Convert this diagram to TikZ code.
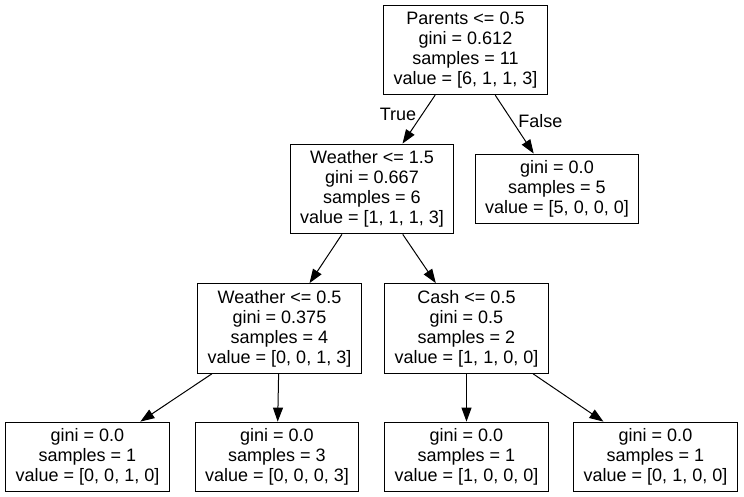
\documentclass[tikz,border=0pt]{standalone}
\usepackage{fontspec}
\setmainfont{Liberation Sans}
\usetikzlibrary{arrows.meta}

\begin{document}
\begin{tikzpicture}[
    x=1pt,y=-1pt,
    box/.style={draw,line width=1pt,rectangle,align=center,inner xsep=10pt,inner ysep=6.5pt,
      font=\fontsize{18}{20}\selectfont},
    arr/.style={-{Triangle[length=14pt,width=10pt]},line width=1pt},
    lbl/.style={font=\fontsize{18}{20}\selectfont}
  ]
    \fill[white] (0,0) rectangle (744,497);
    \node[box] (root) at (465.5,50) {Parents <= 0.5\\gini = 0.612\\samples = 11\\value = [6, 1, 1, 3]};
    \node[box] (w15) at (372,189) {Weather <= 1.5\\gini = 0.667\\samples = 6\\value = [1, 1, 1, 3]};
    \node[box] (leafA) at (557,189) {gini = 0.0\\samples = 5\\value = [5, 0, 0, 0]};
    \node[box] (w05) at (279.5,328.5) {Weather <= 0.5\\gini = 0.375\\samples = 4\\value = [0, 0, 1, 3]};
    \node[box] (cash) at (466.5,328.5) {Cash <= 0.5\\gini = 0.5\\samples = 2\\value = [1, 1, 0, 0]};
    \node[box] (leafB) at (87.5,457) {gini = 0.0\\samples = 1\\value = [0, 0, 1, 0]};
    \node[box] (leafC) at (277,457) {gini = 0.0\\samples = 3\\value = [0, 0, 0, 3]};
    \node[box] (leafD) at (466.5,457) {gini = 0.0\\samples = 1\\value = [1, 0, 0, 0]};
    \node[box] (leafE) at (655.5,457) {gini = 0.0\\samples = 1\\value = [0, 1, 0, 0]};
    \draw[arr] (root)--(w15) node[lbl,pos=0.4,left=2pt] (true) {True};
    \draw[arr] (root)--(leafA) node[lbl,pos=0.45,right=2pt] (false) {False};
    \draw[arr] (w15)--(w05);
    \draw[arr] (w15)--(cash);
    \draw[arr] (w05)--(leafB);
    \draw[arr] (w05)--(leafC);
    \draw[arr] (cash)--(leafD);
    \draw[arr] (cash)--(leafE);
  \end{tikzpicture}
\end{document}
